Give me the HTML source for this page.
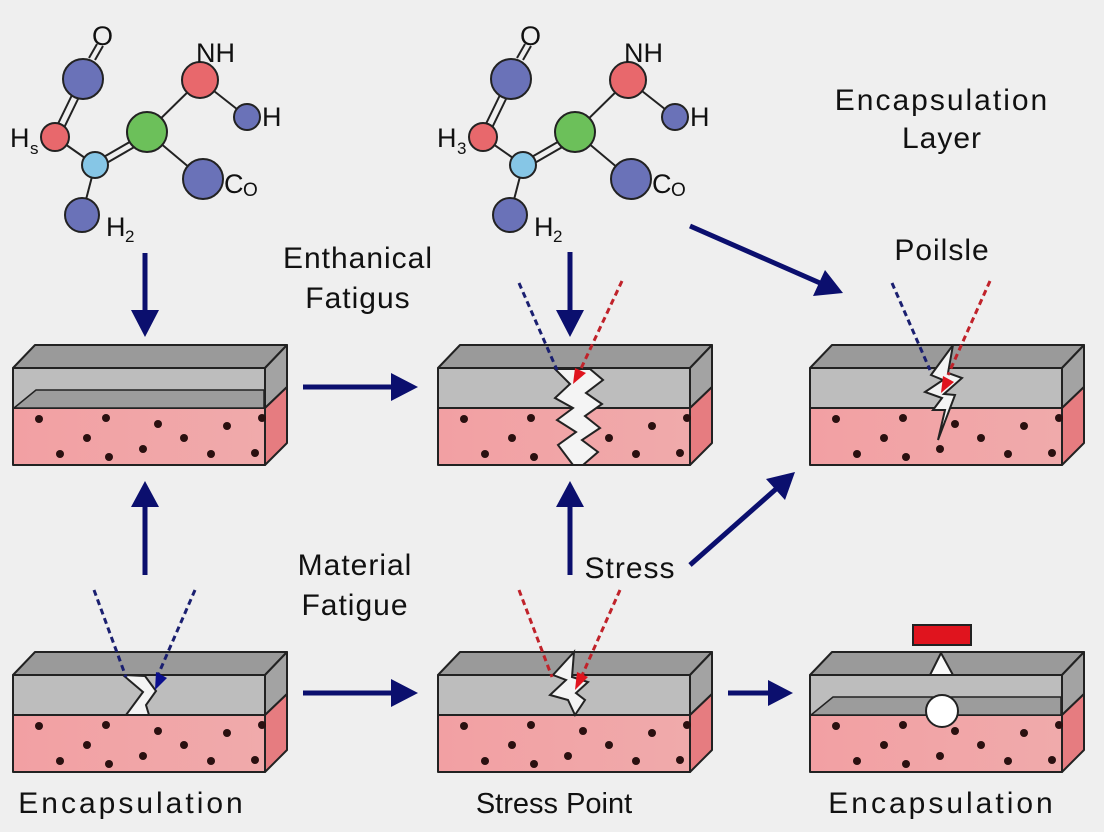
<!DOCTYPE html>
<html><head><meta charset="utf-8"><style>
html,body{margin:0;padding:0;background:#efefef;}
svg{display:block;font-family:"Liberation Sans",sans-serif;}
</style></head><body>
<svg width="1104" height="832" viewBox="0 0 1104 832" xmlns="http://www.w3.org/2000/svg">
<defs>
<linearGradient id="pk" x1="0" x2="1"><stop offset="0" stop-color="#f2a0a3"/><stop offset="1" stop-color="#f0aaab"/></linearGradient>
<g id="blk" stroke="#222" stroke-width="2" stroke-linejoin="round">
  <polygon points="0,23 22,0 274,0 252,23" fill="#9a9a9a"/>
  <rect x="0" y="23" width="252" height="40" fill="#bdbdbd"/>
  <polygon points="252,23 274,0 274,42 252,63" fill="#a3a3a3"/>
  <rect x="0" y="63" width="252" height="57" fill="url(#pk)"/>
  <polygon points="252,63 274,42 274,98 252,120" fill="#e67c80"/>
  <g fill="#2a1010" stroke="none">
    <circle cx="26" cy="74" r="4"/><circle cx="93" cy="73" r="4"/><circle cx="145" cy="79" r="4"/><circle cx="214" cy="81" r="4"/><circle cx="249" cy="73" r="4"/>
    <circle cx="74" cy="93" r="4"/><circle cx="171" cy="93" r="4"/>
    <circle cx="47" cy="109" r="4"/><circle cx="96" cy="112" r="4"/><circle cx="130" cy="104" r="4"/><circle cx="198" cy="109" r="4"/><circle cx="242" cy="108" r="4"/>
  </g>
</g>
<g id="mol" stroke="#222" stroke-width="2">
  <line x1="89" y1="58" x2="97" y2="44"/><line x1="95" y1="60" x2="103" y2="46"/>
  <line x1="72" y1="95" x2="55" y2="130"/><line x1="79" y1="97" x2="62" y2="132"/>
  <line x1="55" y1="137" x2="95" y2="165"/>
  <line x1="95" y1="162" x2="147" y2="132"/><line x1="98" y1="168" x2="150" y2="138"/>
  <line x1="147" y1="132" x2="200" y2="80"/><line x1="200" y1="80" x2="247" y2="117"/>
  <line x1="147" y1="132" x2="203" y2="179"/><line x1="95" y1="165" x2="82" y2="215"/>
  <circle cx="83" cy="79" r="20" fill="#6a72b8"/>
  <circle cx="55" cy="137" r="14" fill="#e8686c"/>
  <circle cx="95" cy="165" r="13" fill="#86c6e6"/>
  <circle cx="147" cy="132" r="20" fill="#6cc05a"/>
  <circle cx="200" cy="80" r="18" fill="#e8686c"/>
  <circle cx="247" cy="117" r="13" fill="#6a72b8"/>
  <circle cx="203" cy="179" r="20" fill="#6a72b8"/>
  <circle cx="82" cy="215" r="17" fill="#6a72b8"/>
</g>
</defs>

<use href="#mol"/>
<g font-size="27" fill="#111">
<text x="92" y="45">O</text><text x="196" y="62">NH</text><text x="262" y="126">H</text>
<text x="10" y="147">H</text><text x="30" y="154" font-size="17">s</text>
<text x="224" y="193">C</text><text x="243" y="196" font-size="19">O</text>
<text x="106" y="236">H</text><text x="125" y="242" font-size="17">2</text>
</g>
<use href="#mol" x="428"/>
<g font-size="27" fill="#111">
<text x="520" y="45">O</text><text x="624" y="62">NH</text><text x="690" y="126">H</text>
<text x="437" y="147">H</text><text x="457" y="154" font-size="17">3</text>
<text x="652" y="193">C</text><text x="671" y="196" font-size="19">O</text>
<text x="534" y="236">H</text><text x="553" y="242" font-size="17">2</text>
</g>

<use href="#blk" x="13" y="345"/>
<use href="#blk" x="438" y="345"/>
<use href="#blk" x="810" y="345"/>
<use href="#blk" x="13" y="652"/>
<use href="#blk" x="438" y="652"/>
<use href="#blk" x="810" y="652"/>

<polygon points="14,408 36,390 264,390 264,408" fill="#9c9c9c" stroke="#222" stroke-width="1.5"/>
<polygon points="811,715 833,697 1061,697 1061,715" fill="#9c9c9c" stroke="#222" stroke-width="1.5"/>

<polygon points="555,369 570,384 555,398 573,408 557,420 576,432 558,445 573,465 583,465 598,452 582,440 600,428 585,416 602,404 586,393 603,380 590,369" fill="#f4f4f4" stroke="#222" stroke-width="2"/>
<polygon points="953,345 931,375 943,380 925,392 942,398 933,410 945,410 938,440 955,395 944,394 962,378 948,373" fill="#f4f4f4" stroke="#222" stroke-width="2"/>
<polygon points="123,675 143,692 126,715 149,715 146,705 156,691 145,676" fill="#f4f4f4" stroke="#222" stroke-width="2"/>
<polygon points="574,652 553,675 566,680 550,695 568,700 575,715 585,700 576,693 588,682 572,677" fill="#f4f4f4" stroke="#222" stroke-width="2"/>

<g stroke-width="3" stroke-dasharray="6,4" fill="none">
<line x1="519" y1="283" x2="557" y2="370" stroke="#1a1f70"/>
<line x1="622" y1="281" x2="578" y2="375" stroke="#c0222a"/>
<line x1="892" y1="283" x2="930" y2="370" stroke="#1a1f70"/>
<line x1="990" y1="281" x2="948" y2="375" stroke="#c0222a"/>
<line x1="94" y1="590" x2="126" y2="677" stroke="#1a1f70"/>
<line x1="195" y1="590" x2="158" y2="675" stroke="#1a1f70"/>
<line x1="519" y1="590" x2="552" y2="677" stroke="#c0222a"/>
<line x1="620" y1="590" x2="580" y2="680" stroke="#c0222a"/>
</g>
<g>
<polygon points="573,384 575,368 586,373" fill="#e0141e"/>
<polygon points="941,393 943,376 954,382" fill="#e0141e"/>
<polygon points="155,690 156,672 167,678" fill="#0b0f8e"/>
<polygon points="575,690 577,672 588,677" fill="#e0141e"/>
</g>

<g stroke="#0b0f6e" stroke-width="5" fill="none">
<line x1="145" y1="253" x2="145" y2="312"/>
<line x1="145" y1="575" x2="145" y2="505"/>
<line x1="303" y1="387" x2="393" y2="387"/>
<line x1="303" y1="693" x2="393" y2="693"/>
<line x1="570" y1="252" x2="570" y2="312"/>
<line x1="570" y1="575" x2="570" y2="505"/>
<line x1="690" y1="226" x2="820" y2="283"/>
<line x1="690" y1="565" x2="776" y2="489"/>
<line x1="728" y1="693" x2="770" y2="693"/>
</g>
<g fill="#0b0f6e">
<polygon points="131,310 159,310 145,337"/>
<polygon points="131,507 159,507 145,481"/>
<polygon points="391,373 391,401 418,387"/>
<polygon points="391,679 391,707 418,693"/>
<polygon points="556,310 584,310 570,337"/>
<polygon points="556,507 584,507 570,481"/>
<polygon points="813,296 825,270 843,293"/>
<polygon points="785,500 766,479 795,472"/>
<polygon points="768,680 768,706 793,693"/>
</g>

<rect x="913" y="625" width="58" height="20" fill="#e0141e" stroke="#222" stroke-width="2"/>
<polygon points="941,653 930,675 953,675" fill="#fafafa" stroke="#222" stroke-width="2"/>
<circle cx="942" cy="711" r="16" fill="#fff" stroke="#222" stroke-width="2"/>

<g fill="#111" text-anchor="middle" style="font-size:30px;letter-spacing:1px">
<text x="358" y="268">Enthanical</text><text x="358" y="308">Fatigus</text>
<text x="355" y="575">Material</text><text x="355" y="615">Fatigue</text>
<text x="630" y="578">Stress</text>
<text x="942" y="110" style="letter-spacing:2px">Encapsulation</text><text x="942" y="148">Layer</text>
<text x="942" y="260">Poilsle</text>
<text x="132" y="813" style="letter-spacing:3px">Encapsulation</text>
<text x="554" y="813" style="font-size:29px;letter-spacing:0px">Stress Point</text>
<text x="942" y="813" style="letter-spacing:3px">Encapsulation</text>
</g>
</svg>
</body></html>
